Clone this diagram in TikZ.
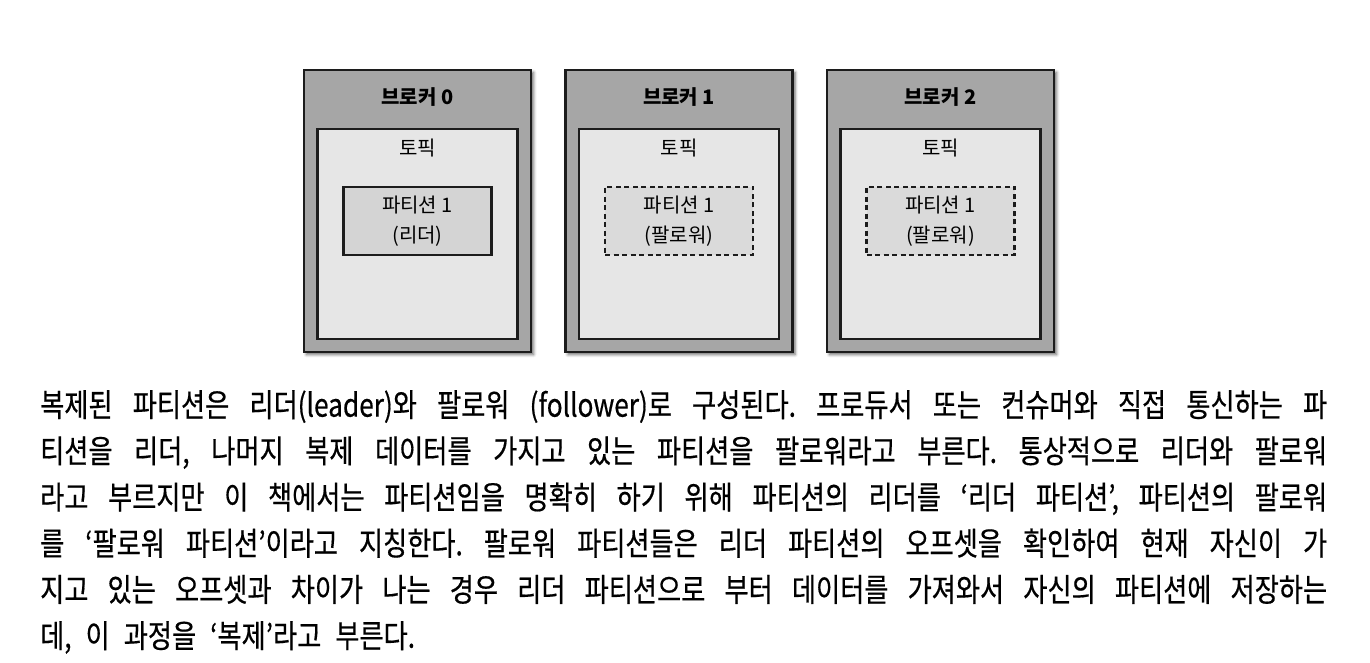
\documentclass[tikz,border=0pt]{standalone}
\usepackage{fontspec}
\setmainfont{Noto Sans CJK KR}
\newfontfamily\parafont{Noto Sans CJK KR}[FakeStretch=0.82,FakeBold=0.5]
\usetikzlibrary{positioning,shadows.blur}

\definecolor{brokergray}{HTML}{A6A6A6}
\definecolor{topicgray}{HTML}{E6E6E6}
\definecolor{leadergray}{HTML}{D4D4D4}
\definecolor{followgray}{HTML}{DADADA}
\definecolor{edgegray}{HTML}{1C1C1C}

\newcommand{\parastyle}{\parafont\fontsize{32}{46.2}\selectfont}
\def\jsplit#1 #2\jend{#1\ifx\relax#2\relax\else\jgap\jsplit#2\jend\fi}
\newcommand{\jline}[1]{\leavevmode\hbox to 1287pt{\def\jgap{\hskip 8pt plus 1fill}\jsplit#1 \jend}}
\newcommand{\lastline}[1]{\leavevmode\hbox{\def\jgap{\hskip 14pt}\jsplit#1 \jend}}

\begin{document}
\begin{tikzpicture}[x=1pt,y=1pt,
    broker/.style={draw=edgegray,line width=2.5pt,fill=brokergray,
                   minimum width=227pt,minimum height=282pt,inner sep=0pt,
                   blur shadow={shadow xshift=2.5pt,shadow yshift=-2.5pt,
                                shadow blur radius=3pt,shadow opacity=60}},
    topic/.style={draw=edgegray,line width=2.5pt,fill=topicgray,anchor=south,
                  minimum width=200pt,minimum height=210pt,inner sep=0pt},
    leaderpart/.style={draw=edgegray,line width=2.5pt,fill=leadergray,anchor=north,
                       minimum width=148pt,minimum height=68pt,align=center,
                       font=\fontsize{20}{30}\selectfont},
    followpart/.style={leaderpart,fill=followgray,dash pattern=on 5pt off 3.5pt},
    brokerlabel/.style={font=\fontsize{20}{24}\selectfont\bfseries},
    topiclabel/.style={font=\fontsize{20}{24}\selectfont},
    para/.style={anchor=north west,inner sep=0pt,text width=1290pt,align=left,
                 font=\parastyle}]

  \useasboundingbox (0,0) rectangle (1370,663);

  \node[broker]      (b0) at (417.5,452)               {};
  \node[broker]      (b1) [right=32pt of b0]           {};
  \node[broker]      (b2) [right=32pt of b1]           {};

  \node[brokerlabel] (bl0) at ([yshift=-28pt]b0.north) {브로커 0};
  \node[brokerlabel] (bl1) at ([yshift=-28pt]b1.north) {브로커 1};
  \node[brokerlabel] (bl2) at ([yshift=-28pt]b2.north) {브로커 2};

  \node[topic]       (t0) at ([yshift=13pt]b0.south)   {};
  \node[topic]       (t1) at ([yshift=13pt]b1.south)   {};
  \node[topic]       (t2) at ([yshift=13pt]b2.south)   {};

  \node[topiclabel]  (tl0) at ([yshift=-20pt]t0.north) {토픽};
  \node[topiclabel]  (tl1) at ([yshift=-20pt]t1.north) {토픽};
  \node[topiclabel]  (tl2) at ([yshift=-20pt]t2.north) {토픽};

  \node[leaderpart]  (p0) at ([yshift=-58pt]t0.north)  {파티션 1\\(리더)};
  \node[followpart]  (p1) at ([yshift=-58pt]t1.north)  {파티션 1\\(팔로워)};
  \node[followpart]  (p2) at ([yshift=-58pt]t2.north)  {파티션 1\\(팔로워)};

  \node[para] (txt) at (40,273) {%
    \jline{복제된 파티션은 리더(leader)와 팔로워 (follower)로 구성된다. 프로듀서 또는 컨슈머와 직접 통신하는 파}\\
    \jline{티션을 리더, 나머지 복제 데이터를 가지고 있는 파티션을 팔로워라고 부른다. 통상적으로 리더와 팔로워}\\
    \jline{라고 부르지만 이 책에서는 파티션임을 명확히 하기 위해 파티션의 리더를 ‘리더 파티션’, 파티션의 팔로워}\\
    \jline{를 ‘팔로워 파티션’이라고 지칭한다. 팔로워 파티션들은 리더 파티션의 오프셋을 확인하여 현재 자신이 가}\\
    \jline{지고 있는 오프셋과 차이가 나는 경우 리더 파티션으로 부터 데이터를 가져와서 자신의 파티션에 저장하는}\\
    \lastline{데, 이 과정을 ‘복제’라고 부른다.}};
\end{tikzpicture}
\end{document}
